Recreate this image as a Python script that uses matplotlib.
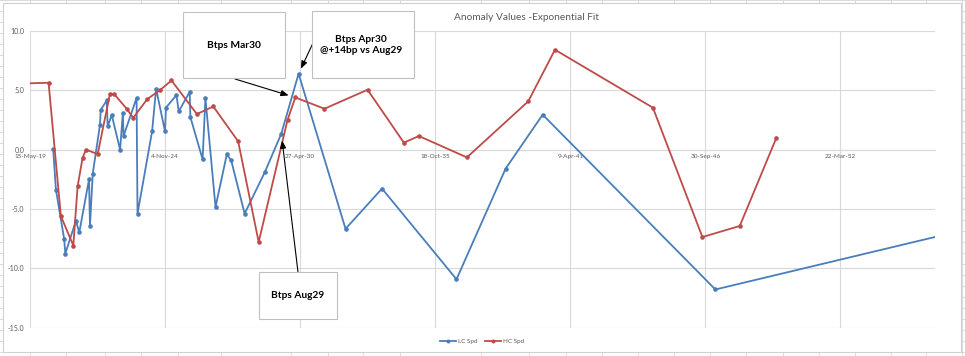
import matplotlib
matplotlib.use("Agg")
import matplotlib.pyplot as plt
from matplotlib.patches import Rectangle
import pandas as pd

# LC Spd (blue)
lc_dates = ['2020-04-22', '2020-06-02', '2020-10-01', '2020-10-19', '2021-03-24',
            '2021-05-14', '2021-10-05', '2021-10-19', '2021-11-29', '2022-03-16',
            '2022-03-27', '2022-06-24', '2022-07-08', '2022-09-06', '2023-01-08',
            '2023-02-18', '2023-02-28', '2023-09-09', '2023-09-23', '2024-04-26',
            '2024-06-24', '2024-11-03', '2024-11-17', '2025-04-22', '2025-05-25',
            '2025-11-03', '2025-11-14', '2026-05-14', '2026-06-24', '2026-11-21',
            '2027-05-07', '2027-07-11', '2028-01-26', '2028-11-21', '2029-07-22',
            '2030-04-04', '2032-02-28', '2033-08-21', '2036-08-28', '2038-08-25',
            '2040-02-25', '2047-02-25', '2056-04-01']
lc_spd = [0.05, -3.37, -7.49, -8.75, -6.01,
          -6.96, -2.5, -6.43, -2.02, 2.1,
          3.35, 4.15, 1.96, 2.93, 0.0,
          3.1, 1.15, 4.36, -5.39, 1.55,
          5.13, 1.55, 3.54, 4.6, 3.22,
          4.87, 2.74, -0.82, 4.36, -4.83,
          -0.4, -0.9, -5.39, -1.88, 1.35,
          6.4, -6.67, -3.28, -10.92, -1.6,
          2.95, -11.78, -7.26]

# HC Spd (red)
hc_dates = ['2019-03-01', '2020-02-14', '2020-08-14', '2021-02-14', '2021-04-19',
            '2021-07-01', '2021-08-21', '2022-02-10', '2022-08-10', '2022-10-15',
            '2023-04-15', '2023-07-22', '2024-02-14', '2024-08-28', '2025-02-07',
            '2026-02-18', '2026-10-19', '2027-10-22', '2028-08-21', '2029-10-22',
            '2030-02-14', '2031-04-22', '2033-01-19', '2034-07-11', '2035-02-18',
            '2037-01-29', '2039-07-26', '2040-08-25', '2044-08-14', '2046-08-17',
            '2048-02-21', '2049-08-17']
hc_spd = [5.58, 5.64, -5.59, -8.08, -3.09,
          -0.7, 0.0, -0.37, 4.67, 4.67,
          3.45, 2.69, 4.26, 5.05, 5.83,
          3.0, 3.64, 0.7, -7.78, 2.5,
          4.4, 3.45, 5.05, 0.59, 1.15,
          -0.65, 4.07, 8.42, 3.54, -7.36,
          -6.43, 1.01]

xtick_dates = ['2019-05-15', '2024-11-04', '2030-04-27', '2035-10-18',
               '2041-04-09', '2046-09-30', '2052-03-22']
xtick_labels = ['15-May-19', '4-Nov-24', '27-Apr-30', '18-Oct-35',
                '9-Apr-41', '30-Sep-46', '22-Mar-52']
yticks = [-15, -10, -5, 0, 5, 10]
ytick_labels = ['-15.0', '-10.0', '-5.0', '0.0', '5.0', '10.0']

plt.rcParams['font.family'] = ['Lato', 'DejaVu Sans']

W, H = 965, 356
def px(x, y):
    return (x / W, 1 - y / H)

fig = plt.figure(figsize=(W / 100, H / 100), dpi=100)
fig.patch.set_facecolor('white')

# spreadsheet cells behind the chart
cols = [30, 66, 105, 141, 178, 221, 291, 328, 363, 400, 481, 529, 566,
        602, 638, 674, 710, 746, 783, 819, 855, 891, 926, 962]
for c in cols:
    fig.add_artist(plt.Line2D([c / W, c / W], [0, 1], color='#d4d4d4', lw=0.6, zorder=-5))
for r in range(0, H, 11):
    fig.add_artist(plt.Line2D([0, 1], [1 - r / H, 1 - r / H], color='#d4d4d4', lw=0.6, zorder=-5))
fig.add_artist(Rectangle(px(3, 352), 958 / W, 349 / H, transform=fig.transFigure,
                         facecolor='white', edgecolor='#d0d0d0', lw=0.8, zorder=-4))

x0, y0 = px(30, 327.7)
x1, y1 = px(935, 31)
ax = fig.add_axes([x0, y0, x1 - x0, y1 - y0])
ax.patch.set_alpha(0)

lc_x = pd.to_datetime(lc_dates)
hc_x = pd.to_datetime(hc_dates)
blue = '#4a7ebb'
red = '#be4b48'
l1, = ax.plot(lc_x, lc_spd, color=blue, lw=1.3, marker='o', ms=2.3, label='LC Spd', zorder=3)
l2, = ax.plot(hc_x, hc_spd, color=red, lw=1.3, marker='o', ms=2.3, label='HC Spd', zorder=3)

ax.set_xlim(pd.Timestamp('2019-05-15'), pd.Timestamp('2056-01-21'))
ax.set_ylim(-15, 10)
ax.set_xticks(pd.to_datetime(xtick_dates))
ax.set_xticklabels(xtick_labels)
ax.set_yticks(yticks)
ax.set_yticklabels(ytick_labels)
ax.grid(True, color='#d9d9d9', lw=0.8, zorder=0)
ax.set_axisbelow(True)
for s in ['top', 'right', 'left']:
    ax.spines[s].set_visible(False)
ax.spines['bottom'].set_position(('data', 0))
ax.spines['bottom'].set_color('#d9d9d9')
ax.tick_params(axis='both', length=0, labelsize=5, labelcolor='#595959')
ax.tick_params(axis='x', pad=3, labelsize=4.6)
ax.tick_params(axis='y', pad=4)

fig.text(527 / W, 1 - 18 / H, 'Anomaly Values -Exponential Fit', ha='center', va='center',
         fontsize=7.3, color='#595959')

fig.legend([l1, l2], ['LC Spd', 'HC Spd'], loc='center', bbox_to_anchor=px(482, 341),
           ncol=2, frameon=False, fontsize=4.5, handlelength=2.6, columnspacing=1.2,
           handletextpad=0.3, labelcolor='#595959', markerscale=0.8)

# callout boxes
boxes = [((183, 12, 285, 78), 'Btps Mar30', (234, 45)),
         ((312, 11, 414, 78), 'Btps Apr30\n@+14bp vs Aug29', (361, 45)),
         ((259, 272, 337, 319), 'Btps Aug29', (298, 296))]
for (bx0, by0, bx1, by1), txt, (tx, ty) in boxes:
    fig.add_artist(Rectangle(px(bx0, by1), (bx1 - bx0) / W, (by1 - by0) / H,
                             transform=fig.transFigure, facecolor='white',
                             edgecolor='#c0c0c0', lw=0.8, zorder=5))
    fig.text(tx / W, 1 - ty / H, txt, ha='center', va='center', fontsize=7.3,
             fontweight='bold', color='black', zorder=6, linespacing=1.35)

arrow = dict(arrowstyle='-|>,head_length=0.45,head_width=0.18', color='black', lw=0.8, shrinkA=0)
i_mar30 = hc_dates.index('2030-02-14')
i_apr30 = lc_dates.index('2030-04-04')
i_aug29 = lc_dates.index('2029-07-22')
ax.annotate('', xy=(hc_x[i_mar30], hc_spd[i_mar30]), xytext=px(235, 79),
            textcoords='figure fraction', arrowprops=dict(arrow, shrinkB=5), zorder=7)
ax.annotate('', xy=(lc_x[i_apr30], lc_spd[i_apr30]), xytext=px(313, 43),
            textcoords='figure fraction', arrowprops=dict(arrow, shrinkB=4), zorder=7)
ax.annotate('', xy=(lc_x[i_aug29], lc_spd[i_aug29]), xytext=px(298, 272),
            textcoords='figure fraction', arrowprops=dict(arrow, shrinkB=5), zorder=7)

fig.savefig('out.png', dpi=100)
